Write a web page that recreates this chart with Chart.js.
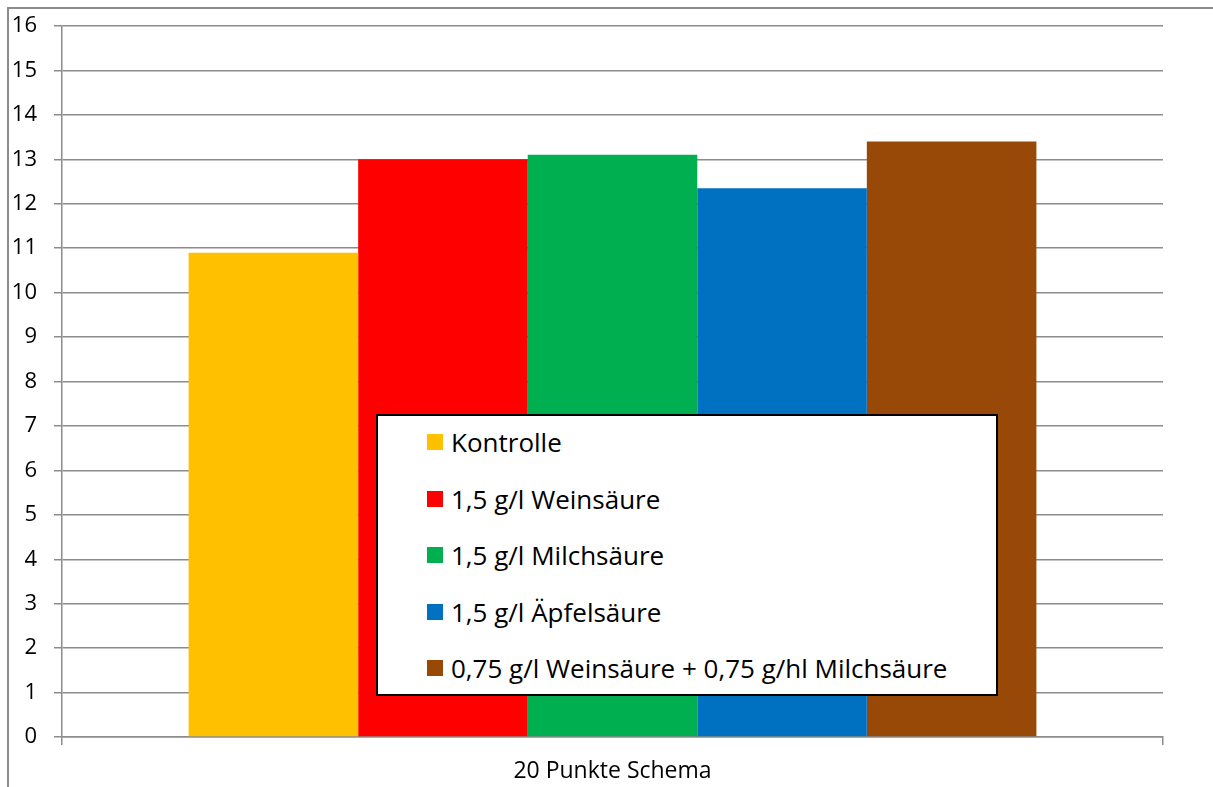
<!DOCTYPE html>
<html lang="de">
<head>
<meta charset="utf-8">
<title>20 Punkte Schema</title>
<script src="https://cdn.jsdelivr.net/npm/chart.js@4/dist/chart.umd.min.js"></script>
<style>
  html, body { margin: 0; padding: 0; background: #fff; }
  #wrap { position: relative; width: 1213px; height: 787px; overflow: hidden; }
  #frame {
    position: absolute; left: 7px; top: 7px; width: 1300px; height: 900px;
    border-top: 2px solid #8c8c8c; border-left: 2px solid #8c8c8c;
    pointer-events: none;
  }
  #legend {
    position: absolute; left: 376px; top: 414px; width: 618px; height: 278px;
    border: 2px solid #000; background: #fff;
    font-family: "Open Sans", Lato, sans-serif; font-size: 26px; color: #000;
  }
  #legend ul { list-style: none; margin: -2px 0 0 0; padding: 0 0 0 49px; }
  #legend li { height: 56.5px; display: flex; align-items: center; white-space: nowrap; }
  #legend .sw { width: 16px; height: 16px; margin-right: 8px; flex: none; }
</style>
</head>
<body>
<div id="wrap">
  <canvas id="c" width="1213" height="787"></canvas>
  <div id="frame"></div>
  <div id="legend"></div>
</div>
<script>
// Sensory score (20-point scheme) per acidification variant
const categories = ['20 Punkte Schema'];
const seriesNames = [
  'Kontrolle',
  '1,5 g/l Weinsäure',
  '1,5 g/l Milchsäure',
  '1,5 g/l Äpfelsäure',
  '0,75 g/l Weinsäure + 0,75 g/hl Milchsäure'
];
const kontrolle = [10.9];
const weinsaeure = [13.0];
const milchsaeure = [13.1];
const aepfelsaeure = [12.35];
const mischung = [13.4];
const seriesColors = ['#FFC000', '#FF0000', '#00B050', '#0070C0', '#984807'];
const yTicks = [0, 1, 2, 3, 4, 5, 6, 7, 8, 9, 10, 11, 12, 13, 14, 15, 16];

const seriesValues = [kontrolle, weinsaeure, milchsaeure, aepfelsaeure, mischung];
const gridGray = '#8c8c8c';
const fontFamily = '"Open Sans", Lato, sans-serif';

const chart = new Chart(document.getElementById('c'), {
  type: 'bar',
  data: {
    labels: categories,
    datasets: seriesNames.map((name, i) => ({
      label: name,
      data: seriesValues[i],
      backgroundColor: seriesColors[i],
      borderWidth: 0,
      categoryPercentage: 0.77,
      barPercentage: 1.0
    }))
  },
  options: {
    responsive: false,
    animation: false,
    devicePixelRatio: 1,
    layout: { padding: { top: 26, right: 50, bottom: 0, left: 0 } },
    plugins: {
      legend: { display: false },
      tooltip: { enabled: false }
    },
    scales: {
      x: {
        grid: {
          display: true,
          drawOnChartArea: false,
          drawTicks: true,
          tickLength: 8,
          color: gridGray,
          lineWidth: 1.5
        },
        border: { display: true, color: gridGray, width: 1.5 },
        ticks: {
          color: '#000',
          padding: 13,
          font: { family: fontFamily, size: 23 }
        },
        afterFit: s => { s.height = 50; }
      },
      y: {
        min: 0,
        max: 16,
        afterBuildTicks: s => { s.ticks = yTicks.map(v => ({ value: v })); },
        grid: {
          color: gridGray,
          lineWidth: 1.5,
          tickLength: 8,
          drawTicks: true
        },
        border: { display: true, color: gridGray, width: 1.5 },
        ticks: {
          color: '#000',
          padding: 17,
          font: { family: fontFamily, size: 22 }
        },
        afterFit: s => {
          s.width = 62;
          // the outer layout padding already leaves room for the end labels
          s.paddingTop = 0;
          s.paddingBottom = 0;
        }
      }
    }
  }
});

// Boxed legend built from the chart's datasets
const legendList = document.createElement('ul');
chart.data.datasets.forEach(ds => {
  const li = document.createElement('li');
  const sw = document.createElement('span');
  sw.className = 'sw';
  sw.style.background = ds.backgroundColor;
  li.appendChild(sw);
  li.appendChild(document.createTextNode(ds.label));
  legendList.appendChild(li);
});
document.getElementById('legend').appendChild(legendList);
</script>
</body>
</html>
